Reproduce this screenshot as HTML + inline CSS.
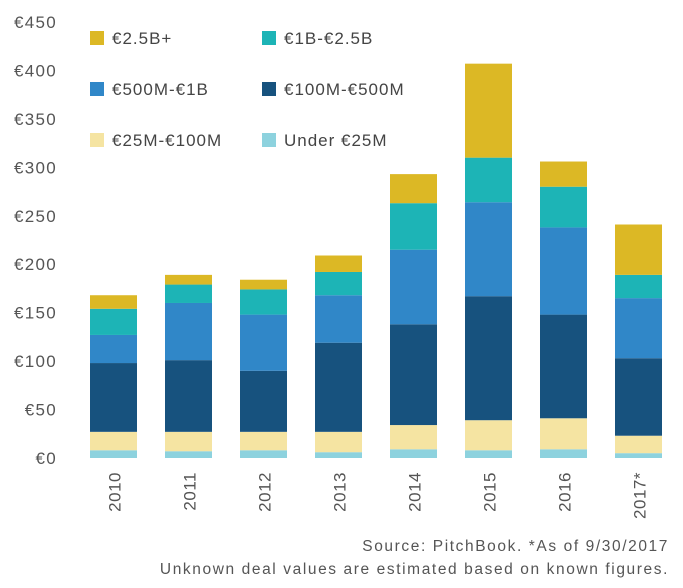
<!DOCTYPE html>
<html><head><meta charset="utf-8"><style>
html,body{margin:0;padding:0;background:#fff;}
svg{display:block;font-family:"Liberation Sans",sans-serif;}
</style></head><body>
<svg id="chart" width="683" height="588" viewBox="0 0 683 588" xmlns="http://www.w3.org/2000/svg">
<g id="yaxis"></g>
<g id="bars"></g>
<g id="xaxis"></g>
<g id="legend"></g>
<text x="669" y="551" text-anchor="end" font-size="15.5" letter-spacing="1.6" fill="#555">Source: PitchBook. *As of 9/30/2017</text>
<text x="669" y="574" text-anchor="end" font-size="15.5" letter-spacing="1.6" fill="#555">Unknown deal values are estimated based on known figures.</text>
</svg>
<script>
const categories = ["2010","2011","2012","2013","2014","2015","2016","2017*"];
const seriesNames = ["Under €25M","€25M-€100M","€100M-€500M","€500M-€1B","€1B-€2.5B","€2.5B+"];
const under25 = [8,7,8,6,9,8,9,5];
const m25to100 = [19,20,19,21,25,31,32,18];
const m100to500 = [71,74,63,92,104,128,107,80];
const m500to1b = [29,59,58,49,77,97,90,62];
const b1to2_5 = [27,19,26,24,48,46,42,24];
const b2_5plus = [14,10,10,17,30,97,26,52];
const yTicks = [0,50,100,150,200,250,300,350,400,450];
const yTickLabels = ["€0","€50","€100","€150","€200","€250","€300","€350","€400","€450"];

const series = [under25,m25to100,m100to500,m500to1b,b1to2_5,b2_5plus];
const colors = ["#8dd2de","#f5e4a2","#17527e","#3087c8","#1db4b6","#dcb825"];
const ns = "http://www.w3.org/2000/svg";
const y = v => 458 - v * (436/450);
const x = i => 113.5 + i * 75;
const bw = 47;

const yaxis = document.getElementById('yaxis');
yTicks.forEach((t,i)=>{
  const tx = document.createElementNS(ns,'text');
  
  
  tx.setAttribute('x',57); tx.setAttribute('y',y(t)+6);
  tx.setAttribute('text-anchor','end'); tx.setAttribute('font-size','17'); tx.setAttribute('letter-spacing','1.3'); tx.setAttribute('fill','#555');
  tx.textContent = yTickLabels[i];
  yaxis.appendChild(tx);
});

const bars = document.getElementById('bars');
categories.forEach((c,i)=>{
  let cum = 0;
  series.forEach((s,k)=>{
    const v = s[i];
    const r = document.createElementNS(ns,'rect');
    
    
    r.setAttribute('x',x(i)-bw/2); r.setAttribute('y',y(cum+v));
    r.setAttribute('width',bw); r.setAttribute('height',y(cum)-y(cum+v));
    r.setAttribute('fill',colors[k]);
    bars.appendChild(r);
    cum += v;
  });
});

const xaxis = document.getElementById('xaxis');
categories.forEach((c,i)=>{
  const tx = document.createElementNS(ns,'text');
  
  
  tx.setAttribute('transform','translate('+(x(i)+7)+',472) rotate(-90)');
  tx.setAttribute('text-anchor','end'); tx.setAttribute('font-size','17'); tx.setAttribute('letter-spacing','0.5'); tx.setAttribute('fill','#555');
  tx.textContent = c;
  xaxis.appendChild(tx);
});

const legend = document.getElementById('legend');
const legendOrder = [5,4,3,2,1,0];
legendOrder.forEach((k,j)=>{
  const col = j%2, row = Math.floor(j/2);
  const lx = col===0 ? 90 : 262, ly = 31 + row*51;
  const g = document.createElementNS(ns,'g');
  
  
  const r = document.createElementNS(ns,'rect');
  
  
  r.setAttribute('x',lx); r.setAttribute('y',ly); r.setAttribute('width',14); r.setAttribute('height',14);
  r.setAttribute('fill',colors[k]);
  const t = document.createElementNS(ns,'text');
  
  
  t.setAttribute('x',lx+22); t.setAttribute('y',ly+13);
  t.setAttribute('font-size','17'); t.setAttribute('letter-spacing','1'); t.setAttribute('fill','#444');
  t.textContent = seriesNames[k];
  g.appendChild(r); g.appendChild(t);
  legend.appendChild(g);
});
</script>
</body></html>
